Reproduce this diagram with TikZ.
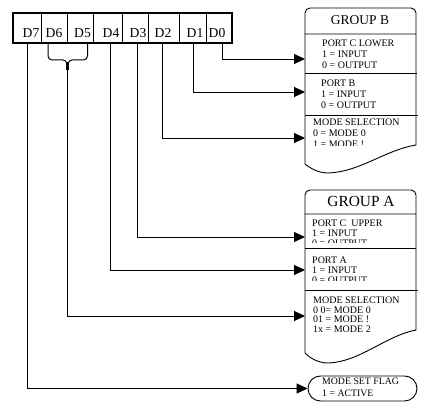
\documentclass[tikz,border=0pt]{standalone}
\usepackage{fontspec}
\setmainfont{Liberation Serif}
\usetikzlibrary{arrows.meta}
\begin{document}
\begin{tikzpicture}[x=1pt,y=-1pt,
  conn/.style={line width=0.9pt},
  arr/.style={conn,-{Triangle[length=11pt,width=10pt]}},
  boxline/.style={line width=0.9pt},
  cell/.style={draw,line width=0.8pt,inner sep=0pt,minimum height=30pt},
  bitlbl/.style={font=\fontsize{13.6}{14}\selectfont,inner sep=0pt,anchor=base},
  sect/.style={inner sep=0pt,anchor=north west,align=left},
  secfont/.style={font=\fontsize{10}{#1}\selectfont},
  hdr/.style={inner sep=0pt,anchor=base},
]
\useasboundingbox (0,0) rectangle (432,417);

% register cells
\node[cell,minimum width=28pt]   (c7) at (27,28) {};
\node[cell,minimum width=26.5pt] (c6) at (54.25,28) {};
\node[cell,minimum width=26pt]   (c5) at (80.5,28) {};
\node[cell,minimum width=28.5pt] (c4) at (107.75,28) {};
\node[cell,minimum width=26pt]   (c3) at (135,28) {};
\node[cell,minimum width=31pt]   (c2) at (163.5,28) {};
\node[cell,minimum width=27pt]   (c1) at (192.5,28) {};
\node[cell,minimum width=26pt]   (c0) at (219,28) {};
\draw[line width=2.2pt] (13,13) rectangle (232,43);

\node[bitlbl] (d7) at (31,38) {D7};
\node[bitlbl] (d6) at (54,38) {D6};
\node[bitlbl] (d5) at (82.5,38) {D5};
\node[bitlbl] (d4) at (111,38) {D4};
\node[bitlbl] (d3) at (138,38) {D3};
\node[bitlbl] (d2) at (163,38) {D2};
\node[bitlbl] (d1) at (195,38) {D1};
\node[bitlbl] (d0) at (217,38) {D0};

% brace under D6 D5
\coordinate (b56) at (67.5,70);
\draw[line width=1pt] (48,44) -- (48,56) to[out=-90,in=180] (52,60) -- (63,60) to[out=0,in=90] (b56);
\draw[line width=1pt] (87.5,44) -- (87.5,56) to[out=-90,in=0] (83.5,60) -- (72,60) to[out=180,in=90] (b56);
\draw[line width=2.2pt] (67.5,62) -- (b56);

% bit start points
\coordinate (b0) at (222,43);
\coordinate (b1) at (193,43);
\coordinate (b2) at (162,43);
\coordinate (b3) at (137,43);
\coordinate (b4) at (110,43);
\coordinate (b7) at (27,43);

% GROUP B
\draw[boxline,rounded corners=5pt] (305,34) -- (305,8) -- (416,8) -- (416,34);
\draw[boxline] (416,34) -- (416,145) .. controls (385,150) and (360,172) .. (328,173)
  .. controls (318,173) and (310,168) .. (305,164) -- (305,34) -- cycle;
\draw[boxline] (305,73) -- (417,73);
\draw[boxline] (305,115) -- (418,115);
\node[hdr,font=\fontsize{13.5}{14}\selectfont] (gB) at (360,25) {GROUP B};
\node[sect,secfont=10.7] (gB1) at (322,40) {PORT C LOWER\\1 = INPUT\\0 = OUTPUT};
\node[sect,secfont=10.7] (gB2) at (321,80) {PORT B\\1 = INPUT\\0 = OUTPUT};
\begin{scope}
\clip (306,116) rectangle (415,145.5);
\node[sect,secfont=11] (gB3) at (313,119) {MODE SELECTION\\0 = MODE 0\\1 = MODE !};
\end{scope}
\coordinate (tB1) at (305,59);
\coordinate (tB2) at (305,92);
\coordinate (tB3) at (305,138);

% GROUP A
\draw[boxline,rounded corners=5pt] (305,214) -- (305,190) -- (416,190) -- (416,214);
\draw[boxline] (416,214) -- (416,330) .. controls (385,336) and (360,362) .. (328,363)
  .. controls (318,363) and (310,358) .. (305,353) -- (305,214) -- cycle;
\draw[boxline] (305,248) -- (416,248);
\draw[boxline] (305,290) -- (418,290);
\node[hdr,font=\fontsize{15.4}{16}\selectfont] (gA) at (361,207) {GROUP A};
\begin{scope}
\clip (306,215) rectangle (415,243);
\node[sect,secfont=10] (gA1) at (312,220) {PORT C\ \ UPPER\\1 = INPUT\\0 = OUTPUT};
\end{scope}
\begin{scope}
\clip (306,249) rectangle (415,281);
\node[sect,secfont=10] (gA2) at (312,256.7) {PORT A\\1 = INPUT\\0 = OUTPUT};
\end{scope}
\node[sect,secfont=9.5] (gA3) at (313,296.7) {MODE SELECTION\\0 0= MODE 0\\01 = MODE !\\1x = MODE 2};
\coordinate (tA1) at (305,237);
\coordinate (tA2) at (305,270);
\coordinate (tA3) at (305,316);

% MODE SET FLAG
\node[draw,boxline,rounded corners=12.5pt,minimum width=109pt,minimum height=25pt,inner sep=0pt] (flag) at (362.5,388.5) {};
\node[sect,font=\fontsize{9.8}{11.5}\selectfont] (flagtxt) at (322,378.3) {MODE SET FLAG\\1 = ACTIVE};

% connectors
\draw[arr] (b0) |- (tB1);
\draw[arr] (b1) |- (tB2);
\draw[arr] (b2) |- (tB3);
\draw[arr] (b3) |- (tA1);
\draw[arr] (b4) |- (tA2);
\draw[arr] (b56) |- (tA3);
\draw[arr] (b7) |- (flag.west);
\end{tikzpicture}
\end{document}
